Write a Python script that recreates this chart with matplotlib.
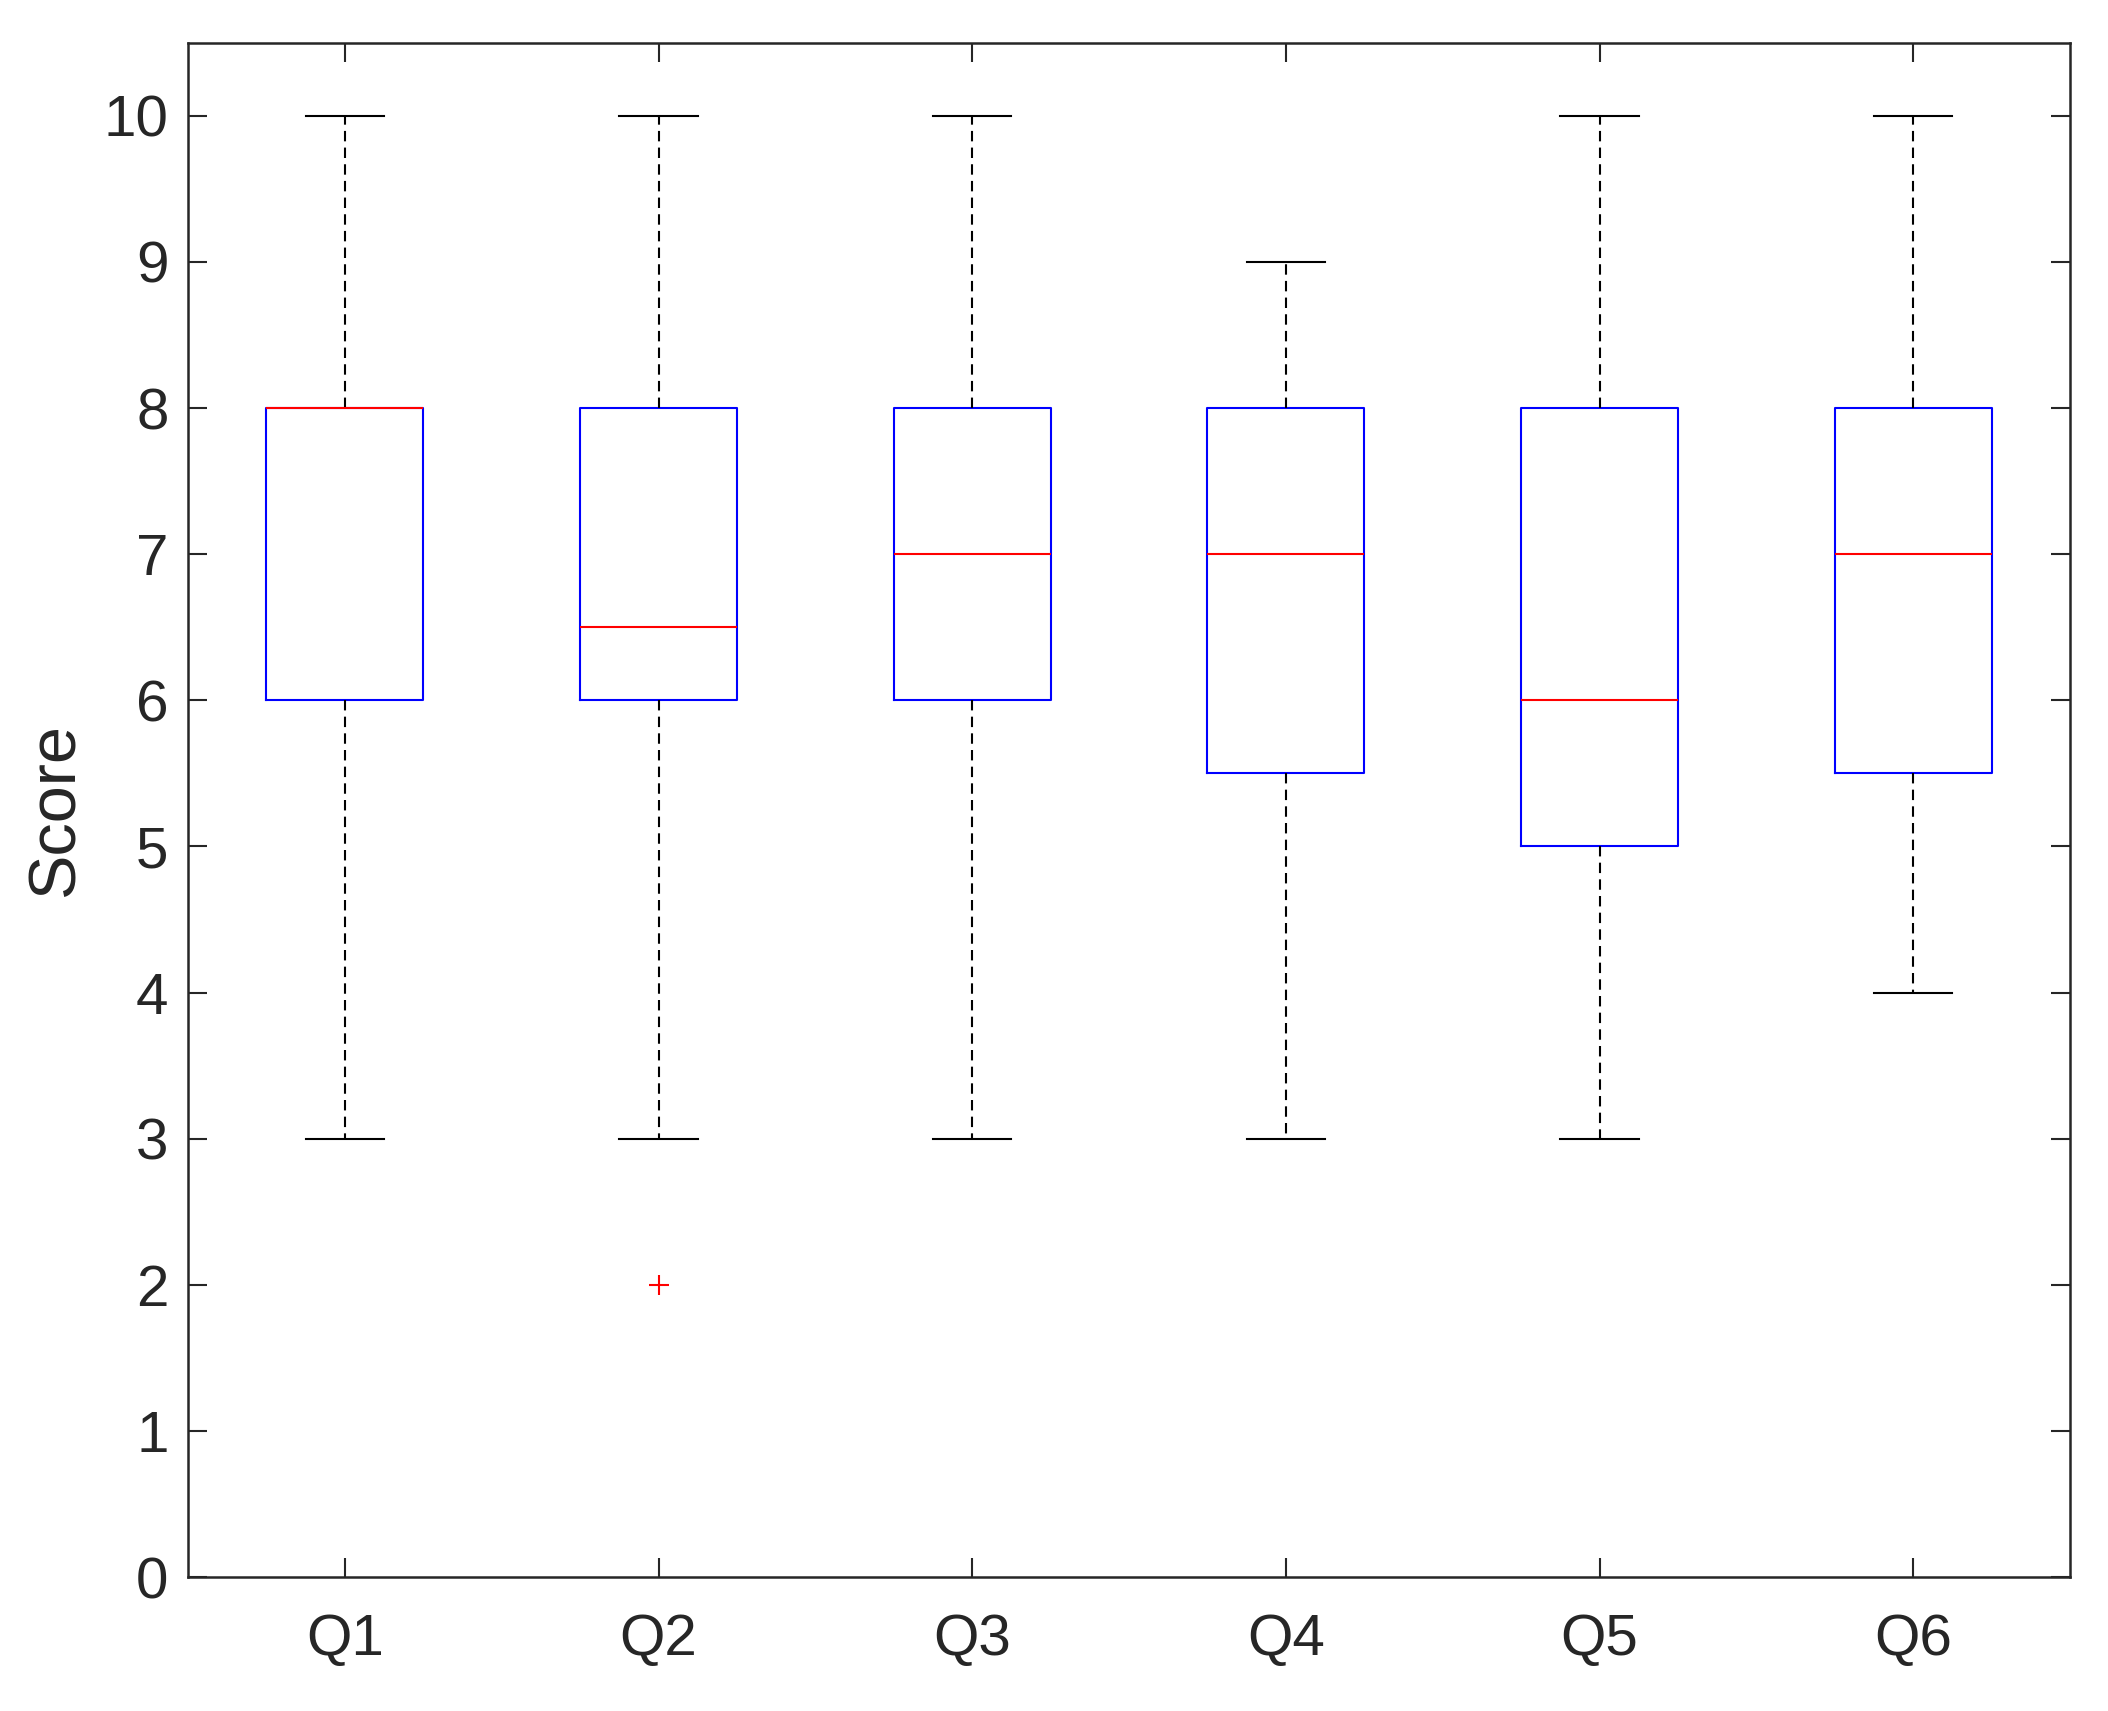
import matplotlib.pyplot as plt

plt.rcParams['font.family'] = ['Liberation Sans', 'DejaVu Sans']

# 各题目的箱线图统计值
questions = ['Q1', 'Q2', 'Q3', 'Q4', 'Q5', 'Q6']
whisker_low = [3, 3, 3, 3, 3, 4]
q1_vals = [6, 6, 6, 5.5, 5, 5.5]
medians = [8, 6.5, 7, 7, 6, 7]
q3_vals = [8, 8, 8, 8, 8, 8]
whisker_high = [10, 10, 10, 9, 10, 10]
outliers = [[], [2], [], [], [], []]

axis_color = '#262626'

stats = []
for i, name in enumerate(questions):
    stats.append({
        'label': name,
        'whislo': whisker_low[i],
        'q1': q1_vals[i],
        'med': medians[i],
        'q3': q3_vals[i],
        'whishi': whisker_high[i],
        'fliers': outliers[i],
    })

fig = plt.figure(figsize=(10.54, 8.555), dpi=200)
ax = fig.add_axes([0.0892, 0.0783, 0.8928, 0.8967])

ax.bxp(stats, positions=range(1, len(questions) + 1), widths=0.5,
       boxprops=dict(color='blue', linewidth=0.75),
       medianprops=dict(color='red', linewidth=0.75),
       whiskerprops=dict(color='black', linewidth=0.75, linestyle=(0, (5, 3))),
       capprops=dict(color='black', linewidth=0.75),
       flierprops=dict(marker='+', markeredgecolor='red', markersize=7,
                       markeredgewidth=0.75, linestyle='none'),
       capwidths=0.25)

ax.set_xlim(0.5, 6.5)
ax.set_ylim(0, 10.5)
ax.set_yticks(range(0, 11))
ax.set_xticks(range(1, len(questions) + 1))
ax.set_xticklabels(questions)
ax.set_ylabel('Score', fontsize=24, color=axis_color, labelpad=6)

ax.tick_params(direction='in', top=True, right=True, length=7, width=0.75,
               colors=axis_color, labelsize=21)
ax.tick_params(axis='x', pad=13)
ax.tick_params(axis='y', pad=7)
for spine in ax.spines.values():
    spine.set_color(axis_color)
    spine.set_linewidth(0.9)

fig.savefig('out.png', dpi=200)
